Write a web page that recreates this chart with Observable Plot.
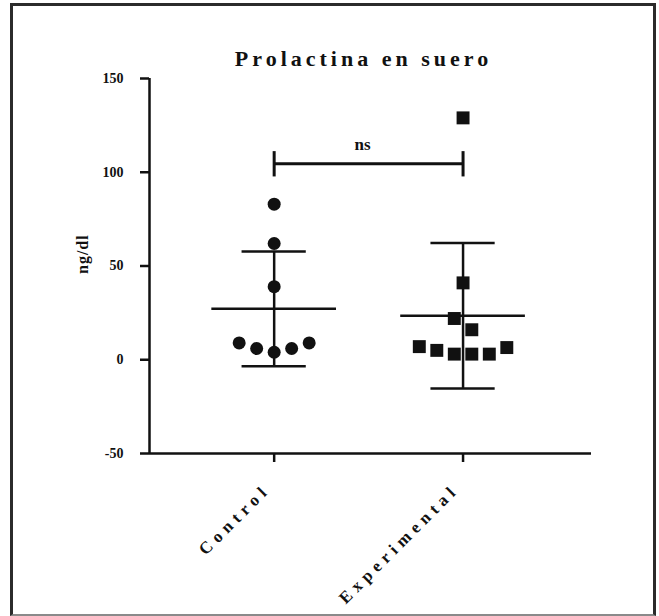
<!DOCTYPE html>
<html>
<head>
<meta charset="utf-8">
<script src="https://cdn.jsdelivr.net/npm/d3@7"></script>
<script src="https://cdn.jsdelivr.net/npm/@observablehq/plot@0.6"></script>
<style>
  body { margin: 0; background: #fff; }
  #wrap { position: relative; width: 659px; height: 616px; overflow: hidden; background: #fff; }
  #chart { position: absolute; left: 0; top: 0; }
  #border { position: absolute; left: 10px; top: 3px; width: 646px; height: 613px; box-sizing: border-box;
            border: 3px solid #2b2b2b; border-bottom: 2px solid #8a8a8a; pointer-events: none; }
</style>
</head>
<body>
<div id="wrap"><div id="chart"></div><div id="border"></div></div>
<script>
// ---- data ----
const title = "Prolactina en suero";
const yLabel = "ng/dl";
const groups = ["Control", "Experimental"];
const controlValues = [83, 62, 39, 9, 6, 4, 6, 9];
const experimentalValues = [129, 41, 22, 16, 6.5, 3, 3, 3, 5, 7];
const means = [27.2, 23.5];
const sds = [30.6, 38.8];
const yTicks = [-50, 0, 50, 100, 150];
const sigLabel = "ns";
const sigLevel = [104.5];

// ---- layout ----
const W = 659, H = 616;
const mL = 149, mR = 68, mT = 78, mB = 163;
const xDomain = [-0.66, 1.68];
const yDomain = [-50, 150];
const pxPerX = (W - mL - mR) / (xDomain[1] - xDomain[0]);
const pxPerY = (H - mT - mB) / (yDomain[1] - yDomain[0]);
const step = 17.5 / pxPerX;      // horizontal spacing of swarm points
const rowSpan = 13 / pxPerY;     // values closer than this share a row

function swarm(values, center) {
  const idx = d3.range(values.length).sort((a, b) => values[a] - values[b]);
  const out = [];
  let row = [];
  const flush = () => {
    const n = row.length;
    const slots = n % 2
      ? [0, ...d3.range(1, (n + 1) / 2).flatMap(k => [-k, k])]
      : d3.range(0.5, n / 2, 1).flatMap(k => [k, -k]);
    row.forEach((i, j) => out.push({value: values[i], x: center + slots[j] * step}));
    row = [];
  };
  for (const i of idx) {
    if (row.length && values[i] - values[row[0]] > rowSpan) flush();
    row.push(i);
  }
  flush();
  return out;
}

const controlPts = swarm(controlValues, 0);
const expPts = swarm(experimentalValues, 1);
const stats = groups.map((g, i) => ({i, mean: means[i], sd: sds[i]}));

const black = "#111";
const plot = Plot.plot({
  width: W, height: H,
  marginLeft: mL, marginRight: mR, marginTop: mT, marginBottom: mB,
  style: {fontFamily: "'Liberation Serif', 'Times New Roman', serif", fontSize: "14px", fontWeight: "bold", color: black, background: "transparent"},
  x: {domain: xDomain, axis: null},
  y: {domain: yDomain, axis: null},
  marks: [
    // axes lines
    Plot.ruleY([yDomain[0]], {stroke: black, strokeWidth: 2.5}),
    Plot.ruleX([xDomain[0]], {stroke: black, strokeWidth: 2.5}),
    Plot.axisY({ticks: yTicks, tickSize: 9, tickPadding: 17, label: null, tickFormat: d => String(d), stroke: black, strokeWidth: 2.5, fontSize: 14, fontWeight: "bold", fill: black}),
    Plot.axisX({ticks: [0, 1], tickSize: 9, label: null, stroke: black, strokeWidth: 2.5, fill: "none", tickFormat: () => ""}),
    Plot.text(groups, {x: (d, i) => i, frameAnchor: "bottom", rotate: -45, textAnchor: "end", dx: -3, dy: 37, fontSize: 17, fontWeight: "bold", fill: black}),
    Plot.text([yLabel], {frameAnchor: "left", rotate: -90, dx: -67, dy: 8, fontSize: 16, fontWeight: "bold", fill: black}),
    Plot.text([title], {frameAnchor: "top", dx: -7, dy: -28, fontSize: 22, fontWeight: "bold", fill: black}),
    // error bars: mean ± SD
    Plot.ruleX(stats, {x: "i", y1: d => d.mean - d.sd, y2: d => d.mean + d.sd, stroke: black, strokeWidth: 2.5}),
    Plot.ruleY(stats, {y: d => d.mean + d.sd, x1: d => d.i - 0.17, x2: d => d.i + 0.17, stroke: black, strokeWidth: 2.5}),
    Plot.ruleY(stats, {y: d => d.mean - d.sd, x1: d => d.i - 0.17, x2: d => d.i + 0.17, stroke: black, strokeWidth: 2.5}),
    Plot.ruleY(stats, {y: "mean", x1: d => d.i - 0.33, x2: d => d.i + 0.33, stroke: black, strokeWidth: 2.5}),
    // points
    Plot.dot(controlPts, {x: "x", y: "value", r: 6.5, fill: black, stroke: "none"}),
    Plot.dot(expPts, {x: "x", y: "value", r: 7.3, symbol: "square", fill: black, stroke: "none"}),
    // significance bracket
    Plot.ruleY(sigLevel, {x1: 0, x2: 1, stroke: black, strokeWidth: 3}),
    Plot.ruleX([0, 1], {y1: sigLevel[0] - 7, y2: sigLevel[0] + 6.5, stroke: black, strokeWidth: 3}),
    Plot.text([sigLabel], {x: 0.5, y: sigLevel[0], dx: -6, dy: -19, fontSize: 17, fontWeight: "bold", fill: black})
  ]
});
document.getElementById("chart").appendChild(plot);
const svg = d3.select(plot);
svg.selectAll("text").filter(function () { return this.textContent === title; }).style("letter-spacing", "4px");
svg.selectAll("text").filter(function () { return groups.includes(this.textContent); }).style("letter-spacing", "5.2px");
svg.selectAll("text").filter(function () { return this.textContent === yLabel; }).style("letter-spacing", "1px");
</script>
</body>
</html>
